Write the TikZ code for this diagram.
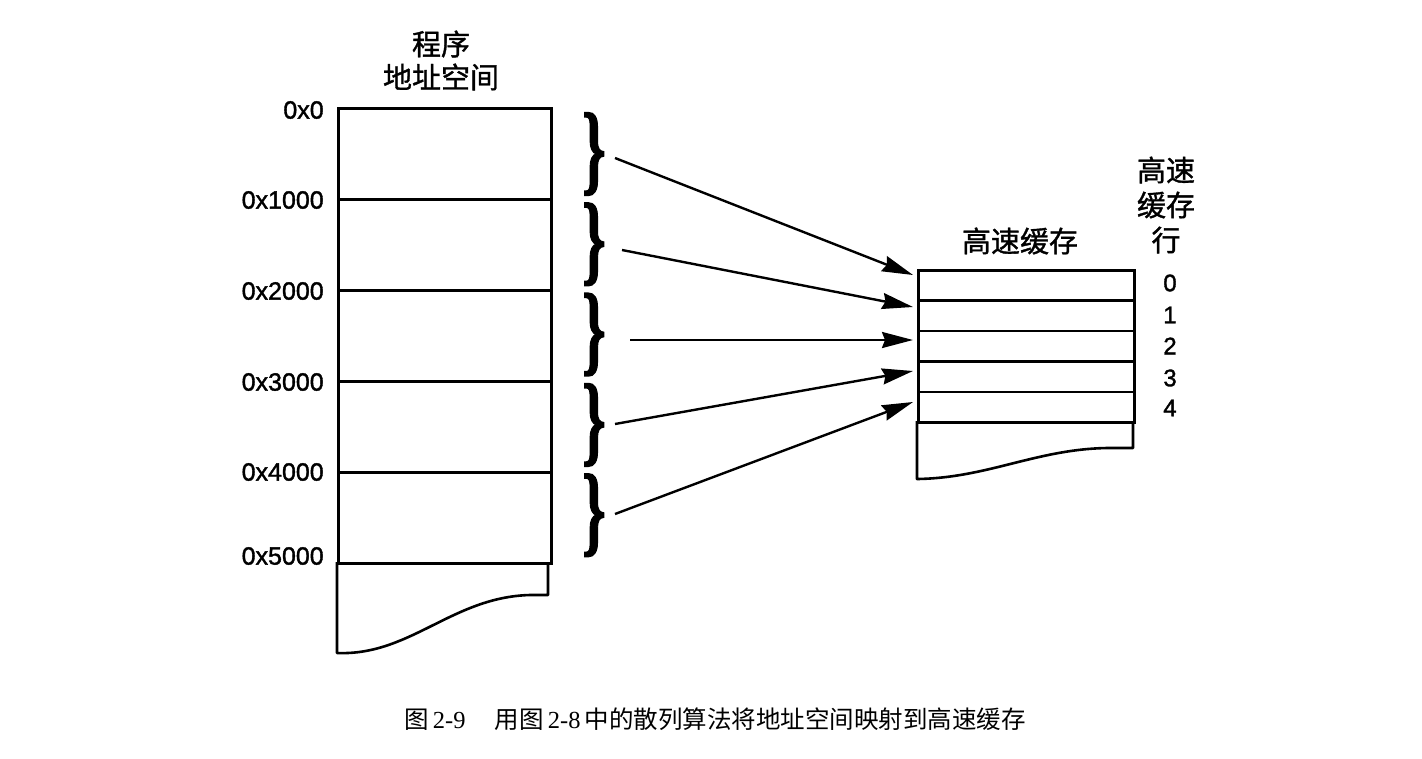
\documentclass[tikz,border=0pt]{standalone}
\usepackage{fontspec}
\setmainfont{Liberation Sans}
\newfontfamily\numfont[FakeBold=1.5]{Liberation Sans}
\newfontfamily\cjkfont[FakeBold=1.2]{Noto Sans CJK SC}
\newfontfamily\capcjk{Noto Sans CJK SC}
\newfontfamily\capserif{Liberation Serif}
\newfontfamily\bracefont[FakeBold=1.5]{Liberation Serif Bold}
\usetikzlibrary{arrows.meta}
\begin{document}
\begin{tikzpicture}[x=1pt,y=-1pt,line width=2.6pt,
  seg/.style={draw,rectangle,inner sep=0pt,anchor=north west,minimum width=213pt,minimum height=91pt},
  crow/.style={draw,rectangle,inner sep=0pt,anchor=north west,minimum width=216pt,minimum height=30.4pt},
  addr/.style={anchor=east,inner sep=0pt,font=\numfont\fontsize{25}{28}\selectfont},
  num/.style={inner sep=0pt,font=\numfont\fontsize{24}{27}\selectfont},
  head/.style={inner sep=0pt,font=\cjkfont\fontsize{29}{34}\selectfont,align=center},
  grp/.style={inner sep=0pt,anchor=center},
  arr/.style={line width=2.4pt,-{Stealth[length=31pt,width=16pt,inset=3pt]}}]
\useasboundingbox (0,0) rectangle (1422,758);

% program address space
\node[head] (ph1) at (441,44) {程序};
\node[head] (ph2) at (441,77) {地址空间};
\foreach \i in {0,...,4}{
  \node[seg] (s\i) at (337,{107+91*\i}) {};
}
\draw[line join=round] (337,562) -- (337,653)
  .. controls (410,656) and (452,597) .. (530,595) -- (548,595) -- (548,562);

\node[addr] (a0) at (325,110) {0x0};
\node[addr] (a1) at (325,200) {0x1000};
\node[addr] (a2) at (325,291) {0x2000};
\node[addr] (a3) at (325,382) {0x3000};
\node[addr] (a4) at (325,472) {0x4000};
\node[addr] (a5) at (325,556) {0x5000};

% braces grouping each 0x1000 block
\foreach \i in {0,...,4}{
  \node[grp] (b\i) at (594,{154+90.3*\i})
    {\scalebox{1.5}[2.5]{\bracefont\fontsize{40}{40}\selectfont\}}};
}

% cache
\node[head] (ch) at (1020,241) {高速缓存};
\foreach \i in {0,...,4}{
  \node[crow] (c\i) at (917,{269+30.4*\i}) {};
}
\draw[line join=round] (917,421) -- (917,479)
  .. controls (990,478) and (1040,447) .. (1115,448) -- (1133,448) -- (1133,421);

\node[head] (lh1) at (1166,170) {高速};
\node[head] (lh2) at (1166,205) {缓存};
\node[head] (lh3) at (1166,240) {行};
\node[num] (n0) at (1170,283) {0};
\node[num] (n1) at (1170,315) {1};
\node[num] (n2) at (1170,346) {2};
\node[num] (n3) at (1170,378) {3};
\node[num] (n4) at (1170,408) {4};

% mapping arrows
\coordinate (p0) at (615,158);
\coordinate (p1) at (622,250);
\coordinate (p2) at (630,340);
\coordinate (p3) at (615,424);
\coordinate (p4) at (615,514);
\coordinate (q0) at (913,275);
\coordinate (q1) at (913,307);
\coordinate (q2) at (913,340);
\coordinate (q3) at (913,371);
\coordinate (q4) at (913,402);
\foreach \i in {0,...,4}{
  \draw[arr] (p\i) -- (q\i);
}

% caption
\node[inner sep=0pt,font=\fontsize{24.5}{28}\selectfont] (cap) at (715,719)
  {{\capcjk 图}\,{\capserif 2-9}\hspace{1.2em}{\capcjk 用图}\,{\capserif 2-8}\,{\capcjk 中的散列算法将地址空间映射到高速缓存}};
\end{tikzpicture}
\end{document}
